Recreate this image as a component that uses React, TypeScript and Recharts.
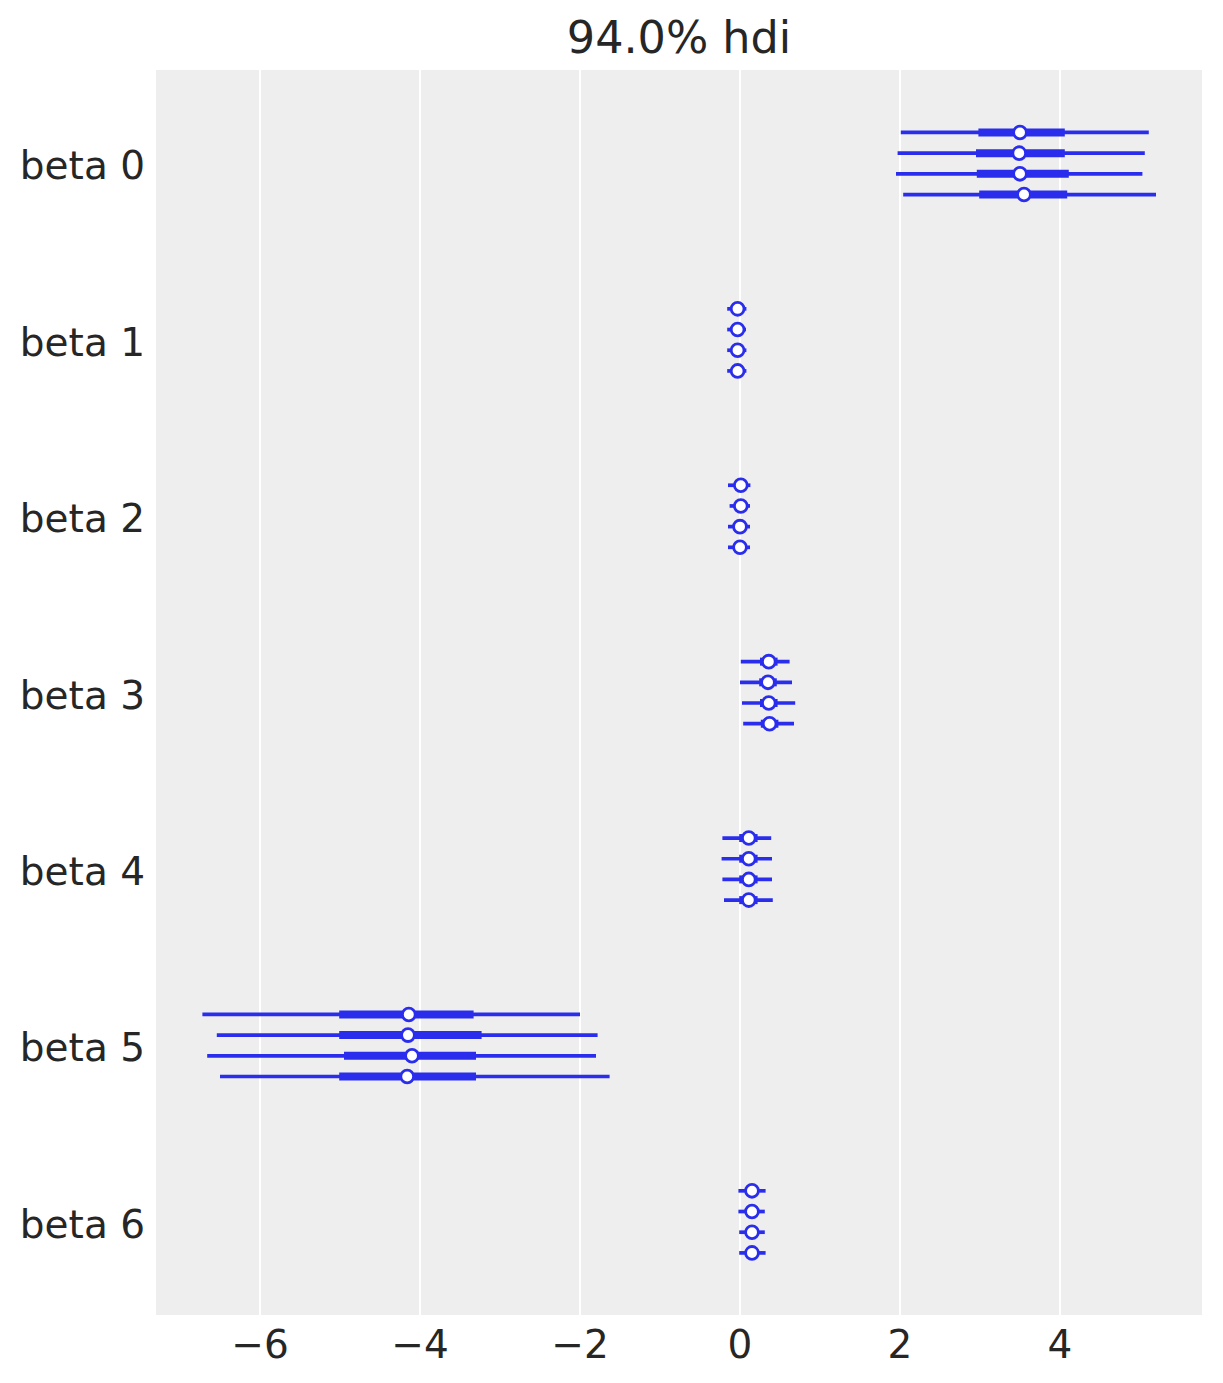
import React from "react"
import { ScatterChart, Scatter, XAxis, YAxis, CartesianGrid, ErrorBar } from "recharts"

const BLUE = "#2a2eec"
const TEXT = "#262626"
const FONT = "DejaVu Sans, sans-serif"

const params = ["beta 0", "beta 1", "beta 2", "beta 3", "beta 4", "beta 5", "beta 6"]
const xTicks = [-6, -4, -2, 0, 2, 4]

// 94% hdi per chain (4 chains per parameter)
const hdiLow = [
  [2.01, 1.97, 1.95, 2.04],
  [-0.16, -0.16, -0.16, -0.16],
  [-0.15, -0.13, -0.15, -0.15],
  [0.01, 0.0, 0.025, 0.04],
  [-0.22, -0.23, -0.22, -0.2],
  [-6.72, -6.54, -6.66, -6.5],
  [-0.02, -0.02, -0.01, -0.01],
]
const hdiHigh = [
  [5.11, 5.06, 5.03, 5.2],
  [0.08, 0.075, 0.08, 0.08],
  [0.13, 0.125, 0.125, 0.125],
  [0.62, 0.65, 0.69, 0.675],
  [0.39, 0.4, 0.4, 0.41],
  [-2.0, -1.78, -1.8, -1.63],
  [0.32, 0.31, 0.31, 0.32],
]
// interquartile range (thick part)
const iqrLow = [
  [2.98, 2.95, 2.96, 2.99],
  [-0.09, -0.09, -0.09, -0.09],
  [-0.06, -0.06, -0.07, -0.07],
  [0.25, 0.24, 0.25, 0.26],
  [-0.01, -0.01, -0.01, -0.01],
  [-5.01, -5.01, -4.95, -5.01],
  [0.08, 0.08, 0.08, 0.08],
]
const iqrHigh = [
  [4.06, 4.06, 4.11, 4.09],
  [0.03, 0.03, 0.03, 0.03],
  [0.07, 0.07, 0.06, 0.06],
  [0.47, 0.46, 0.47, 0.48],
  [0.22, 0.22, 0.22, 0.22],
  [-3.33, -3.23, -3.3, -3.3],
  [0.22, 0.22, 0.22, 0.22],
]
const medians = [
  [3.5, 3.49, 3.5, 3.55],
  [-0.03, -0.03, -0.03, -0.03],
  [0.01, 0.01, 0.0, 0.0],
  [0.36, 0.35, 0.36, 0.37],
  [0.11, 0.11, 0.11, 0.11],
  [-4.14, -4.15, -4.1, -4.16],
  [0.15, 0.15, 0.15, 0.15],
]

// vertical spacing of chains inside one parameter group
const chainStep = 0.1173

const rows = params.flatMap((_, g) =>
  medians[g].map((m, c) => ({
    x: m,
    y: g + (c - 1.5) * chainStep,
    thin: [m - hdiLow[g][c], hdiHigh[g][c] - m],
    thick: [m - iqrLow[g][c], iqrHigh[g][c] - m],
  }))
)

const Dot = (props: any) => (
  <circle cx={props.cx} cy={props.cy} r={6.4} fill="#ffffff" stroke={BLUE} strokeWidth={2.8} />
)

const YTick = (props: any) => {
  const { x, y, payload } = props
  return (
    <text x={x} y={y} dy={16} textAnchor="end" fontSize={39} fill={TEXT} fontFamily={FONT}>
      {params[payload.value]}
    </text>
  )
}

const XTick = (props: any) => {
  const { x, y, payload } = props
  return (
    <text x={x} y={y} dy={28} textAnchor="middle" fontSize={39} fill={TEXT} fontFamily={FONT}>
      {String(payload.value).replace("-", "\u2212")}
    </text>
  )
}

export default function App() {
  return (
    <div style={{ position: "relative", width: 1223, height: 1383, margin: -8, background: "#ffffff" }}>
      <div
        style={{
          position: "absolute",
          left: 155,
          width: 1048,
          top: 16,
          textAlign: "center",
          fontFamily: FONT,
          fontSize: 44.5,
          lineHeight: "44px",
          color: TEXT,
        }}
      >
        94.0% hdi
      </div>
      <ScatterChart width={1223} height={1383} margin={{ top: 70, right: 20, bottom: 0, left: 0 }}>
        <CartesianGrid horizontal={false} fill="#eeeeee" stroke="#ffffff" strokeWidth={2} />
        <XAxis
          type="number"
          dataKey="x"
          domain={[-7.3125, 5.7875]}
          allowDataOverflow
          ticks={xTicks}
          height={68}
          axisLine={false}
          tickLine={false}
          tickSize={0}
          tickMargin={15}
          tick={<XTick />}
        />
        <YAxis
          type="number"
          dataKey="y"
          domain={[-0.53, 6.528]}
          allowDataOverflow
          reversed
          ticks={[0, 1, 2, 3, 4, 5, 6]}
          width={155}
          axisLine={false}
          tickLine={false}
          tickSize={0}
          tickMargin={10}
          tick={<YTick />}
        />
        <Scatter data={rows} fill={BLUE} shape={<Dot />} isAnimationActive={false}>
          <ErrorBar dataKey="thin" direction="x" width={0} stroke={BLUE} strokeWidth={3.7} isAnimationActive={false} />
          <ErrorBar dataKey="thick" direction="x" width={0} stroke={BLUE} strokeWidth={8} isAnimationActive={false} />
        </Scatter>
      </ScatterChart>
    </div>
  )
}
